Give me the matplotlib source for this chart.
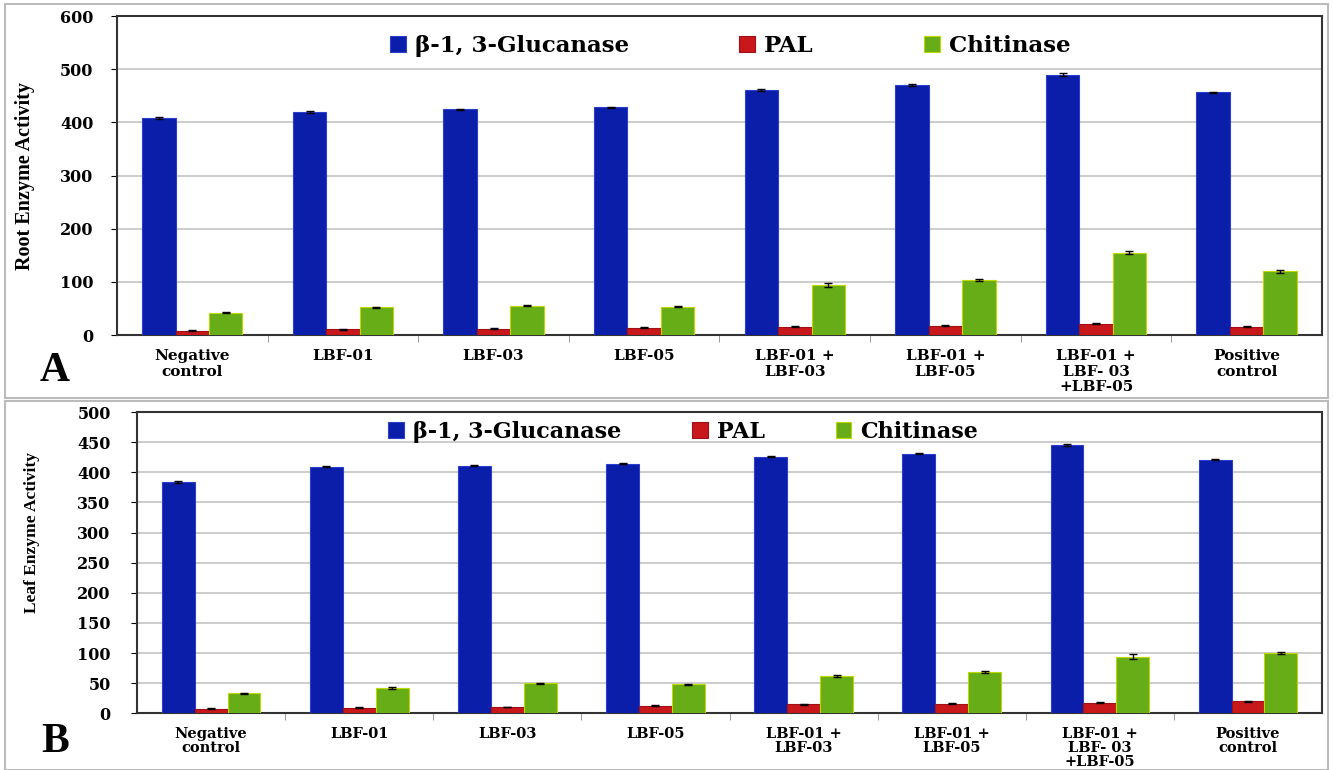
import numpy as np
import matplotlib
matplotlib.use("Agg")
import matplotlib.pyplot as plt
from matplotlib.patches import Rectangle

plt.rcParams['font.family'] = ['Liberation Serif', 'DejaVu Serif']
plt.rcParams['font.weight'] = 'bold'
WIDE = ['DejaVu Serif', 'Liberation Serif']

groups = ["Negative\ncontrol", "LBF-01", "LBF-03", "LBF-05", "LBF-01 +\nLBF-03",
          "LBF-01 +\nLBF-05", "LBF-01 +\nLBF- 03\n+LBF-05", "Positive\ncontrol"]
series = ["\u03b2-1, 3-Glucanase", "PAL", "Chitinase"]

# root enzyme activity
root_glu = [408, 420, 425, 428, 461, 470, 490, 457]
root_pal = [8, 11, 12, 14, 16, 17.5, 21, 15.5]
root_chi = [42, 52, 55, 53, 94, 103, 155, 120]
root_glu_err = [1.5, 1.5, 1, 1, 1.5, 1.5, 2, 1]
root_pal_err = [0.8, 0.8, 0.8, 0.8, 1, 1, 1, 1]
root_chi_err = [1, 1.5, 1, 1, 4, 2, 3.5, 2.5]

# leaf enzyme activity
leaf_glu = [384, 409, 411, 414, 426, 431, 445, 421]
leaf_pal = [7.7, 9.3, 10.5, 12.7, 15, 16, 17.6, 20]
leaf_chi = [33, 42, 50, 48, 62, 68, 94, 100]
leaf_glu_err = [1.5, 1, 1, 1, 1, 1, 2, 1]
leaf_pal_err = [0.6, 0.6, 0.8, 0.6, 0.8, 0.8, 0.8, 0.8]
leaf_chi_err = [1, 1, 1, 1, 1.5, 1.5, 4, 1.5]

colors = ['#0b1ea9', '#c8181c', '#66ad17']
edges = ['#2a3fd0', '#a01014', '#c2d600']

fig = plt.figure(figsize=(13.33, 7.70), dpi=100)

# light panel frames
fig.patches.append(Rectangle((0.004, 0.483), 0.992, 0.512, transform=fig.transFigure,
                             fill=False, edgecolor='#bbbbbb', lw=1.5))
fig.patches.append(Rectangle((0.004, 0.0), 0.992, 0.479, transform=fig.transFigure,
                             fill=False, edgecolor='#bbbbbb', lw=1.5))


def panel(rect, vals, errs, ymax, ystep, ylabel, ylab_xy, ylab_size, letter, letter_xy,
          leg_xy, leg_size, colsp, xt_size, xt_space, ypad):
    ax = fig.add_axes(rect)
    x = np.arange(len(groups))
    w = 0.222
    for i in range(3):
        ax.bar(x + (i - 1) * w, vals[i], w, yerr=errs[i], color=colors[i],
               edgecolor=edges[i], linewidth=0.8, label=series[i],
               error_kw=dict(ecolor='black', elinewidth=1, capsize=3, capthick=1), zorder=3)
    ax.set_xlim(-0.5, len(groups) - 0.5)
    ax.set_ylim(0, ymax)
    ax.set_yticks(np.arange(0, ymax + 1, ystep))
    ax.yaxis.grid(True, color='#c4c4c4', lw=1.2, zorder=0)
    ax.set_axisbelow(True)
    ax.set_xticks(x)
    ax.set_xticklabels(groups, fontsize=xt_size, fontweight='bold', family=WIDE,
                       linespacing=xt_space)
    ax.set_xticks(np.arange(0.5, len(groups) - 0.5, 1), minor=True)
    ax.tick_params(axis='x', which='major', length=0, pad=10)
    ax.tick_params(axis='x', which='minor', length=5, color='#888888')
    ax.tick_params(axis='y', length=4, pad=ypad)
    for lab in ax.get_yticklabels():
        lab.set_fontweight('bold')
        lab.set_family(WIDE)
        lab.set_fontsize(11.5)
    for s in ax.spines.values():
        s.set_color('#333333')
        s.set_linewidth(1.5)
    ax.set_ylabel(ylabel, fontsize=ylab_size, fontweight='bold')
    ax.yaxis.set_label_coords(*ylab_xy)
    ax.legend(loc='center', bbox_to_anchor=leg_xy, ncol=3, frameon=False,
              handlelength=0.7, handleheight=0.7, handletextpad=0.4,
              columnspacing=colsp, prop={'size': leg_size, 'weight': 'bold', 'family': WIDE})
    fig.text(letter_xy[0], letter_xy[1], letter, fontsize=30, fontweight='bold',
             ha='center', va='center')
    return ax


panel([0.0878, 0.5649, 0.9039, 0.4143],
      [root_glu, root_pal, root_chi], [root_glu_err, root_pal_err, root_chi_err],
      600, 100, "Root Enzyme Activity", (-0.068, 0.50), 14.5, "A", (0.041, 0.518),
      (0.509, 0.906), 16.5, 4.8, 11, 1.15, 13)

panel([0.1028, 0.0736, 0.889, 0.3913],
      [leaf_glu, leaf_pal, leaf_chi], [leaf_glu_err, leaf_pal_err, leaf_chi_err],
      500, 50, "Leaf Enzyme Activity", (-0.082, 0.60), 12.5, "B", (0.041, 0.036),
      (0.461, 0.934), 16, 3.2, 10.5, 1.0, 15)

fig.savefig("out.png", dpi=100)
